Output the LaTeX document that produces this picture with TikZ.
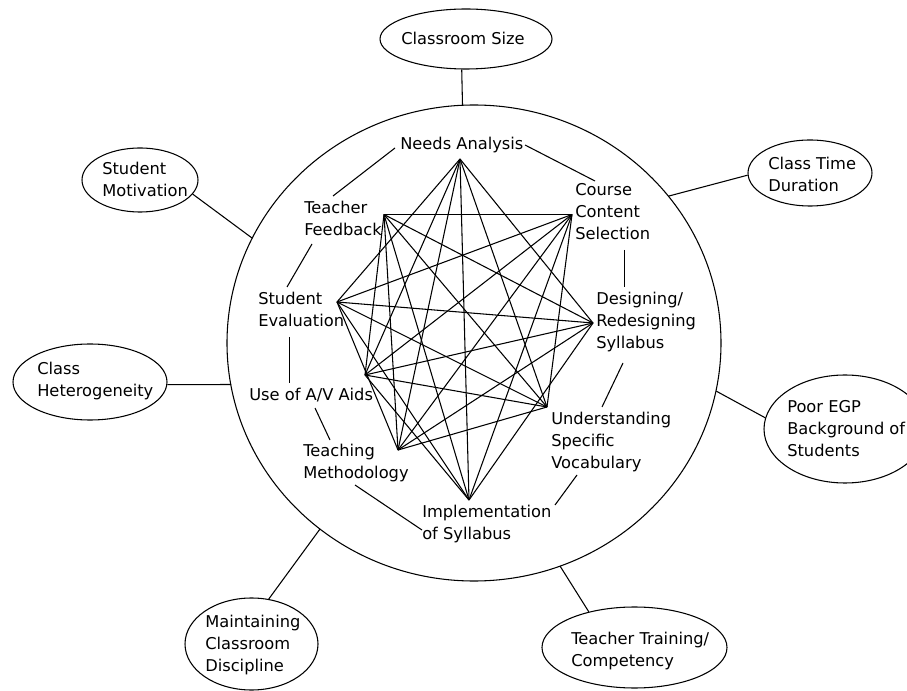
\documentclass[tikz,border=0pt]{standalone}
\usepackage{fontspec}
\setmainfont{DejaVu Sans}
\usetikzlibrary{shapes.geometric}
\begin{document}
\begin{tikzpicture}[x=0.75pt,y=-0.75pt,
  lbl/.style={inner sep=0pt, align=left, anchor=west, font=\fontsize{12.2}{16.5}\selectfont},
  oval/.style={draw, ellipse, line width=0.8pt, inner sep=0pt},
  edge/.style={line width=0.8pt},
  conn/.style={line width=0.8pt}]
\path[use as bounding box] (0,0) rectangle (907,691);
\clip (0,0) rectangle (907,691);

% central ring
\node[oval, minimum width=370.5pt, minimum height=357pt] (ring) at (474,343) {};

% outer factors
\node[oval, minimum width=129pt, minimum height=45pt] (cs) at (466,39) {};
\node[lbl] (cst) at (401,38.5) {Classroom Size};
\node[oval, minimum width=93pt, minimum height=49.5pt] (ctd) at (810,173) {};
\node[lbl] (ctdt) at (768,174) {Class Time\\Duration};
\node[oval, minimum width=87pt, minimum height=48pt] (sm) at (140,180) {};
\node[lbl] (smt) at (102,179) {Student\\Motivation};
\node[oval, minimum width=115.5pt, minimum height=57pt] (ch) at (90,382) {};
\node[lbl] (cht) at (37,381) {Class\\Heterogeneity};
\node[oval, minimum width=121.5pt, minimum height=81pt] (pe) at (845,429) {};
\node[lbl] (pet) at (787,428.5) {Poor EGP\\Background of\\Students};
\node[oval, minimum width=99.75pt, minimum height=69pt] (mcd) at (251.5,644) {};
\node[lbl] (mcdt) at (205,645.5) {Maintaining\\Classroom\\Discipline};
\node[oval, minimum width=138.75pt, minimum height=60.75pt] (ttc) at (634.5,647.5) {};
\node[lbl] (ttct) at (571,651) {Teacher Training/\\Competency};

% points on the ring
\coordinate (rCS) at (462.5,105);
\coordinate (rCTD) at (669,196);
\coordinate (rSM) at (252,238);
\coordinate (rCH) at (231,384.5);
\coordinate (rPE) at (716,391);
\coordinate (rMCD) at (320,529);
\coordinate (rTTC) at (560,566);

\draw[conn] (cs.-98) -- (rCS);
\draw[conn] (ctd.182) -- (rCTD);
\draw[conn] (sm.-15) -- (rSM);
\draw[conn] (ch.-2) -- (rCH);
\draw[conn] (pe.172) -- (rPE);
\draw[conn] (mcd.69) -- (rMCD);
\draw[conn] (ttc.142) -- (rTTC);

% inner labels
\node[lbl] (na)  at (400,145) {Needs Analysis};
\node[lbl] (cc)  at (575,212) {Course\\Content\\Selection};
\node[lbl] (des) at (596,322) {Designing/\\Redesigning\\Syllabus};
\node[lbl] (us)  at (551,442) {Understanding\\Specific\\Vocabulary};
\node[lbl] (imp) at (422,524) {Implementation\\of Syllabus};
\node[lbl] (tm)  at (303,463) {Teaching\\Methodology};
\node[lbl] (av)  at (249,395) {Use of A/V Aids};
\node[lbl] (se)  at (258,309) {Student\\Evaluation};
\node[lbl] (tf)  at (304,218) {Teacher\\Feedback};

% label-to-label connectors
\coordinate (k1a) at (333,196); \coordinate (k1b) at (395,148);
\coordinate (k2a) at (525,145); \coordinate (k2b) at (595,181);
\coordinate (k3a) at (624.5,250); \coordinate (k3b) at (624.5,287);
\coordinate (k4a) at (623,363); \coordinate (k4b) at (602,407);
\coordinate (k5a) at (577,475); \coordinate (k5b) at (555,505);
\coordinate (k6a) at (355,485); \coordinate (k6b) at (422,530);
\coordinate (k7a) at (315,408); \coordinate (k7b) at (330,440);
\coordinate (k8a) at (289.5,337); \coordinate (k8b) at (289.5,383);
\coordinate (k9a) at (312,244); \coordinate (k9b) at (287,287);
\foreach \k in {1,...,9} {\draw[conn] (k\k a) -- (k\k b);}

% graph vertices
\coordinate (p0) at (460,159);
\coordinate (p1) at (572,214.5);
\coordinate (p2) at (593,323);
\coordinate (p3) at (547,407);
\coordinate (p4) at (469,500);
\coordinate (p5) at (398,450);
\coordinate (p6) at (365,375);
\coordinate (p7) at (337,302);
\coordinate (p8) at (384,214.5);

\foreach \i in {0,...,8} {
  \foreach \d in {2,3,4} {
    \pgfmathtruncatemacro\j{mod(\i+\d,9)}
    \draw[edge] (p\i) -- (p\j);
  }
}
\end{tikzpicture}
\end{document}
